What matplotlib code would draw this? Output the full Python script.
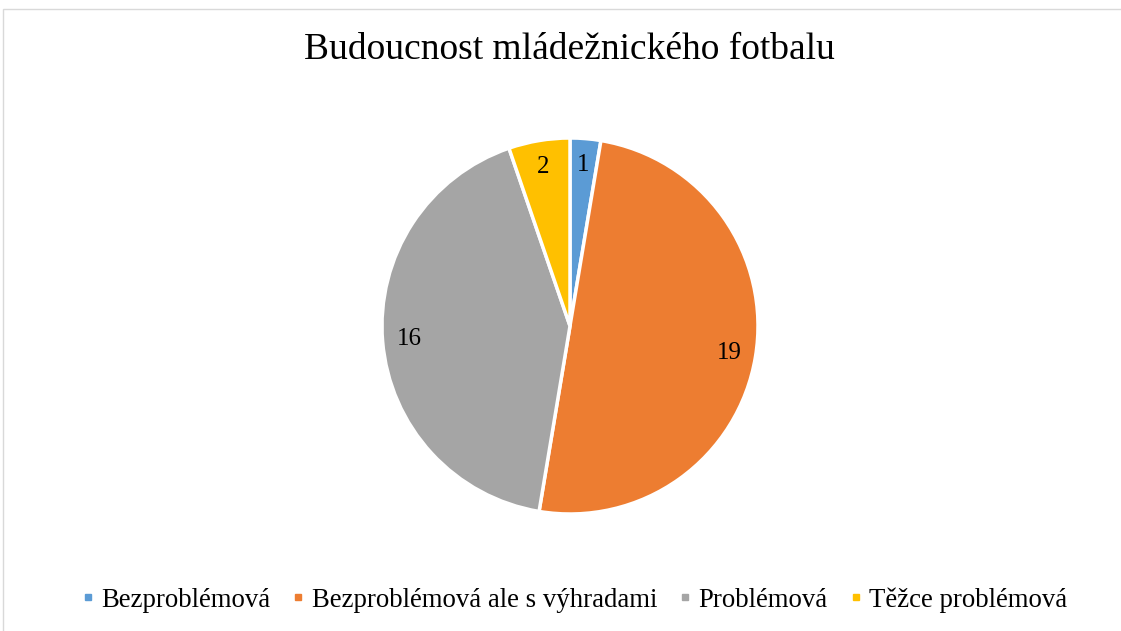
import matplotlib.pyplot as plt
import numpy as np
from matplotlib.lines import Line2D
from matplotlib.patches import Rectangle

kategorie = ["Bezproblémová", "Bezproblémová ale s výhradami", "Problémová", "Těžce problémová"]
hodnoty = [1, 19, 16, 2]
barvy = ["#5B9BD5", "#ED7D31", "#A5A5A5", "#FFC000"]

plt.rcParams['font.family'] = ['Liberation Serif', 'DejaVu Serif']

fig = plt.figure(figsize=(11.21, 6.31), dpi=100)

# ramecek grafu
fig.patches.append(Rectangle((3 / 1121, -0.1), 1.2, 1 - 9 / 631 + 0.1, transform=fig.transFigure,
                             fill=False, edgecolor="#D9D9D9", linewidth=1))

r_px = 188
cx, cy = 570, 326
ax = fig.add_axes([(cx - r_px) / 1121, (631 - cy - r_px) / 631, 2 * r_px / 1121, 2 * r_px / 631])
wedges, texts = ax.pie(hodnoty, colors=barvy, startangle=90, counterclock=False,
                       wedgeprops=dict(edgecolor="white", linewidth=2.5))
ax.set_xlim(-1, 1)
ax.set_ylim(-1, 1)
ax.set_aspect("equal")

# popisky hodnot
celkem = sum(hodnoty)
uhel = 90.0
for v in hodnoty:
    stred = uhel - v / celkem * 360 / 2
    uhel -= v / celkem * 360
    r = 0.86
    ax.text(r * np.cos(np.radians(stred)), r * np.sin(np.radians(stred)), str(v),
            ha="center", va="center", fontsize=18)

fig.text(0.508, 1 - 50 / 631, "Budoucnost mládežnického fotbalu", ha="center", va="center", fontsize=27)

handles = [Line2D([], [], marker="s", linestyle="", color=c, markersize=5) for c in barvy]
fig.legend(handles, kategorie, loc="center", bbox_to_anchor=(0.5134, 1 - 600 / 631), ncol=4,
           frameon=False, fontsize=19.3, handlelength=0.3, handletextpad=0.35, columnspacing=0.9)

fig.savefig("out.png", dpi=100)
